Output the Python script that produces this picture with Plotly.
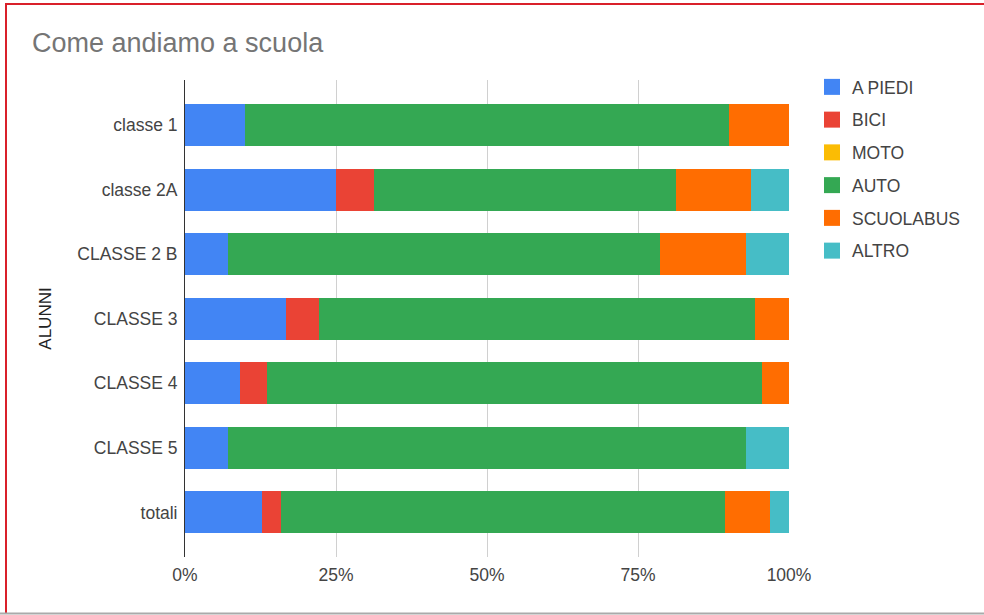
import plotly.graph_objects as go

categories = ["classe 1", "classe 2A", "CLASSE 2 B", "CLASSE 3", "CLASSE 4", "CLASSE 5", "totali"]
a_piedi = [1, 4, 1, 3, 2, 1, 12]
bici = [0, 1, 0, 1, 1, 0, 3]
moto = [0, 0, 0, 0, 0, 0, 0]
auto = [8, 8, 10, 13, 18, 12, 69]
scuolabus = [1, 2, 2, 1, 1, 0, 7]
altro = [0, 1, 1, 0, 0, 1, 3]
x_tick_vals = [0, 25, 50, 75, 100]
x_tick_text = ["0%", "25%", "50%", "75%", "100%"]

series = [
    ("A PIEDI", a_piedi, "#4285F4"),
    ("BICI", bici, "#EA4335"),
    ("MOTO", moto, "#FBBC04"),
    ("AUTO", auto, "#34A853"),
    ("SCUOLABUS", scuolabus, "#FF6D01"),
    ("ALTRO", altro, "#46BDC6"),
]

FONT = "Liberation Sans, Arial, sans-serif"

fig = go.Figure()
for name, vals, col in series:
    fig.add_trace(go.Bar(
        y=categories, x=vals, name=name, orientation="h",
        marker=dict(color=col, line=dict(width=0)),
        legendgroup=name, showlegend=False,
    ))
# legend entries (larger square swatches)
for name, vals, col in series:
    fig.add_trace(go.Scatter(
        x=[None], y=[None], mode="markers", name=name,
        marker=dict(symbol="square", size=16, color=col),
        legendgroup=name, showlegend=True, hoverinfo="skip",
    ))

W, H = 984, 615
L, R, T, B = 185, 195, 80, 58
pw, ph = W - L - R, H - T - B

def px(x):
    return (x - L) / pw

def py(y):
    return (H - B - y) / ph

fig.update_layout(
    width=W, height=H,
    margin=dict(l=L, r=R, t=T, b=B),
    barmode="stack", barnorm="percent", bargap=0.35,
    paper_bgcolor="white", plot_bgcolor="white",
    font=dict(family=FONT, size=17.5, color="#444444"),
    title=dict(text="Come andiamo a scuola", x=32 / W, xanchor="left",
               y=1 - 43 / H, yanchor="middle",
               font=dict(size=27, color="#757575", family=FONT)),
    xaxis=dict(range=[0, 100], tickvals=x_tick_vals, ticktext=x_tick_text,
               showgrid=True, gridcolor="#d0d0d0", gridwidth=1,
               zeroline=False, showline=False, ticks="", ticklabelstandoff=5,
               tickfont=dict(size=17.5, color="#444444")),
    yaxis=dict(range=[6.69, -0.7], showgrid=False, ticks="", showline=True,
               linecolor="#333333", linewidth=1, ticklabelstandoff=3,
               title=dict(text="ALUNNI", standoff=21, font=dict(size=17, color="#222222")),
               tickfont=dict(size=17.5, color="#444444")),
    legend=dict(x=px(812), y=py(69), xanchor="left", yanchor="top",
                traceorder="grouped", tracegroupgap=7, itemsizing="trace",
                font=dict(size=17.5, color="#444444")),
    shapes=[
        dict(type="line", xref="paper", yref="paper", x0=px(6), x1=px(6), y0=py(4), y1=py(614),
             line=dict(color="#d9202a", width=2)),
        dict(type="line", xref="paper", yref="paper", x0=px(5), x1=px(990), y0=py(4), y1=py(4),
             line=dict(color="#d9202a", width=2)),
        dict(type="line", xref="paper", yref="paper", x0=px(0), x1=px(990), y0=py(613.5), y1=py(613.5),
             line=dict(color="#aaaaaa", width=2)),
    ],
)

fig.write_html("out.html", config={"displayModeBar": False},
               post_script="document.body.style.margin='0';document.body.style.overflow='hidden';")
